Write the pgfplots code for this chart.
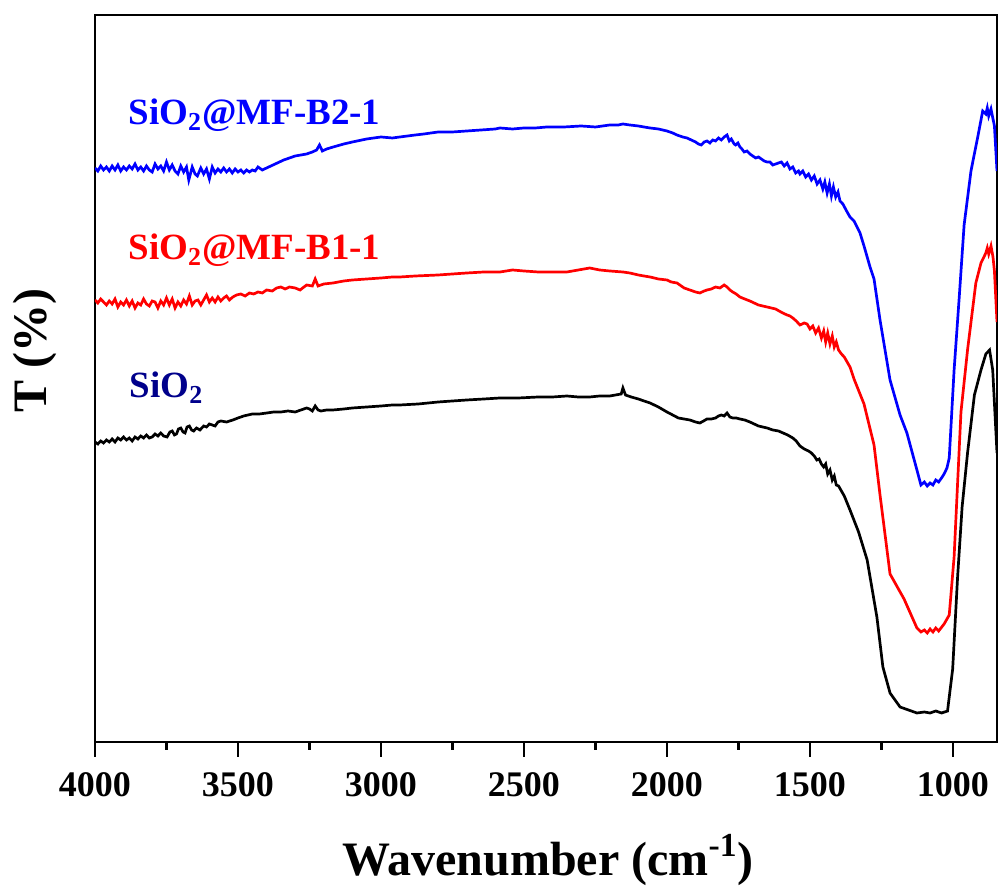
\documentclass[border=0pt]{standalone}
\usepackage{fontspec}
\setmainfont{Liberation Serif}
\usepackage{pgfplots}
\pgfplotsset{compat=1.18}
\definecolor{navyT}{RGB}{0,0,139}
\tikzset{lbl/.style={anchor=base west, inner sep=0pt, font=\fontsize{18.5}{18.5}\selectfont\bfseries}}

\begin{document}
\begin{tikzpicture}
\useasboundingbox (-47.5pt,-72pt) rectangle (452pt,371pt);
\begin{axis}[
    scale only axis, width=451pt, height=363.5pt,
    x dir=reverse, xmin=846, xmax=4000, ymin=0, ymax=727,
    xtick={1000,1500,...,4000}, minor xtick={1250,1750,...,3750},
    ytick=\empty, xtick pos=bottom, tick align=outside,
    major tick length=7.5pt, minor tick length=4pt,
    axis line style={line width=1.3pt}, every tick/.style={line width=1.3pt, black},
    /pgf/number format/assume math mode=true,
    /pgf/number format/set thousands separator={},
    xticklabel style={font=\fontsize{18}{18}\selectfont\bfseries, yshift=-4pt},
    xlabel={Wavenumber (cm\textsuperscript{-1})},
    ylabel={T (\%)},
    label style={font=\fontsize{24}{24}\selectfont\bfseries},
    xlabel style={at={(axis description cs:0.502,-0.183)}, anchor=base},
    ylabel style={at={(axis description cs:-0.0665,0.538)}, anchor=center},
    every axis plot/.append style={line width=1.35pt, no marks},
]
% SiO2@MF-B2-1
\addplot[blue] table {
4000 574
3990 571
3980 576
3970 572
3960 575
3950 571
3940 576
3930 572
3920 577
3910 571
3900 575
3890 572
3880 576
3870 573
3860 578
3850 572
3840 575
3830 571
3820 576
3810 572
3800 570
3790 578
3780 573
3770 576
3760 571
3750 580
3740 572
3730 577
3720 571
3710 568
3700 576
3690 570
3680 575
3672 562
3660 575
3650 568
3642 566
3630 574
3620 568
3610 573
3600 563
3590 575
3580 569
3570 573
3560 570
3550 574
3540 570
3530 573
3520 569
3510 573
3500 570
3490 572
3480 569
3470 572
3460 570
3450 572
3440 571
3430 575
3415 572
3400 574
3385 576
3370 578
3355 580
3340 582
3320 584
3300 586
3280 587
3260 588
3240 590
3225 592
3215 597
3205 591
3190 593
3167 595
3130 598
3100 600
3050 603
3000 605
2960 604
2934 605
2880 607
2850 608
2800 610
2750 610
2700 611
2650 612
2600 613
2584 614
2540 613
2500 614
2460 614
2420 615
2360 615
2300 616
2250 615
2200 617
2170 617
2154 618
2130 617
2100 616
2080 615
2059 614
2030 613
2000 611
1980 609
1965 607
1945 605
1930 604
1915 602
1900 600
1890 598
1880 597
1870 600
1860 601
1850 599
1840 602
1830 601
1820 604
1810 602
1800 605
1790 607
1782 601
1775 603
1765 598
1760 597
1752 599
1745 595
1738 593
1730 590
1720 591
1710 588
1700 586
1690 584
1680 585
1670 583
1660 581
1650 580
1640 580
1630 577
1620 578
1610 579
1600 580
1590 576
1580 579
1570 573
1560 575
1550 569
1540 571
1535 568
1525 571
1515 565
1505 568
1495 562
1485 566
1475 558
1465 562
1455 553
1448 560
1440 549
1432 558
1425 546
1418 555
1410 545
1402 550
1395 541
1385 538
1370 530
1360 525
1346 521
1325 509
1311 496
1290 475
1276 463
1255 422
1220 362
1185 327
1161 309
1126 272
1112 257
1100 260
1090 256
1080 259
1070 257
1060 262
1050 260
1040 264
1031 268
1021 274
1013 284
996 372
978 445
961 517
937 571
914 604
896 631
885 628
880 634
875 626
867 633
855 616
846 571
};
% SiO2@MF-B1-1
\addplot[red] table {
4000 442
3990 439
3980 443
3970 440
3960 437
3950 441
3940 438
3930 443
3920 435
3910 440
3900 437
3890 442
3880 436
3870 441
3860 434
3850 439
3840 437
3830 443
3820 438
3810 436
3800 441
3790 440
3780 434
3770 441
3760 437
3750 444
3740 437
3730 443
3720 434
3710 440
3700 436
3690 442
3680 438
3670 446
3660 437
3650 441
3640 442
3630 437
3620 442
3610 447
3600 440
3590 444
3580 440
3570 445
3560 441
3550 444
3540 446
3530 442
3518 445
3505 447
3490 448
3475 446
3460 449
3445 448
3430 450
3415 449
3400 452
3380 451
3365 454
3350 455
3335 453
3320 455
3300 454
3283 452
3260 457
3240 456
3230 463
3220 456
3200 458
3168 459
3130 461
3100 462
3050 463
3000 464
2960 465
2934 465
2880 466
2800 467
2750 468
2700 469
2640 470
2584 470
2540 472
2500 471
2450 470
2400 470
2350 470
2310 472
2270 474
2235 472
2200 471
2154 470
2130 469
2100 467
2080 466
2059 465
2030 463
2000 462
1985 460
1965 459
1940 454
1920 452
1900 450
1885 449
1870 451
1860 452
1845 453
1830 455
1815 454
1800 457
1790 455
1780 452
1770 450
1758 448
1745 445
1728 443
1710 441
1695 439
1680 437
1665 436
1650 435
1635 434
1620 433
1608 431
1595 429
1580 427
1570 426
1560 424
1548 421
1535 417
1520 419
1510 418
1500 413
1490 416
1480 409
1470 414
1460 404
1452 411
1445 400
1438 409
1430 398
1422 406
1415 395
1408 400
1400 392
1390 388
1380 385
1360 375
1346 363
1311 338
1276 297
1255 247
1220 168
1171 143
1126 114
1112 110
1100 112
1090 109
1080 113
1070 110
1060 114
1050 111
1031 118
1013 127
996 185
972 330
949 392
920 459
902 479
885 489
880 494
875 488
867 496
860 485
855 471
846 420
};
% SiO2
\addplot[black] table {
4000 300
3990 298
3980 301
3970 299
3960 302
3950 300
3940 303
3930 300
3920 304
3910 302
3900 305
3890 302
3880 304
3870 301
3860 305
3850 303
3840 306
3830 304
3820 307
3810 304
3800 305
3790 308
3780 306
3770 309
3760 306
3748 305
3738 310
3730 311
3722 307
3715 308
3708 313
3700 314
3692 310
3685 309
3678 315
3670 316
3662 312
3655 311
3645 314
3633 312
3620 316
3610 315
3600 318
3590 317
3580 316
3570 320
3560 321
3540 320
3518 322
3500 324
3480 326
3465 327
3450 328
3425 328
3399 329
3375 330
3350 330
3325 331
3300 330
3280 332
3260 334
3250 333
3240 331
3230 336
3220 332
3210 331
3190 332
3168 332
3130 333
3100 334
3050 335
3000 336
2960 337
2934 337
2870 338
2800 340
2750 341
2700 342
2640 343
2584 344
2520 344
2450 345
2400 345
2350 346
2310 345
2270 345
2235 346
2200 346
2180 347
2160 348
2154 354
2145 347
2125 345
2100 343
2080 341
2059 339
2030 335
2000 330
1980 327
1960 324
1940 323
1920 322
1900 320
1885 319
1872 321
1860 323
1845 323
1830 324
1820 326
1810 327
1800 326
1790 329
1780 325
1770 324
1758 324
1745 323
1728 322
1710 320
1695 318
1680 316
1665 315
1650 314
1630 312
1610 311
1594 309
1578 307
1560 304
1548 301
1535 296
1520 293
1505 291
1495 289
1485 286
1476 282
1468 283
1460 278
1452 275
1445 278
1438 268
1430 272
1422 262
1415 266
1408 257
1400 256
1380 246
1360 232
1330 210
1300 182
1266 125
1245 75
1220 49
1185 35
1126 29
1100 30
1080 29
1060 31
1040 29
1019 31
1001 73
984 164
968 235
949 289
925 347
902 372
885 388
872 392
861 372
846 289
};
\node[lbl, blue] at (axis cs:3884,617) {SiO\textsubscript{2}@MF-B2-1};
\node[lbl, red] at (axis cs:3884,482) {SiO\textsubscript{2}@MF-B1-1};
\node[lbl, navyT] at (axis cs:3880,344) {SiO\textsubscript{2}};
\end{axis}
\end{tikzpicture}
\end{document}
